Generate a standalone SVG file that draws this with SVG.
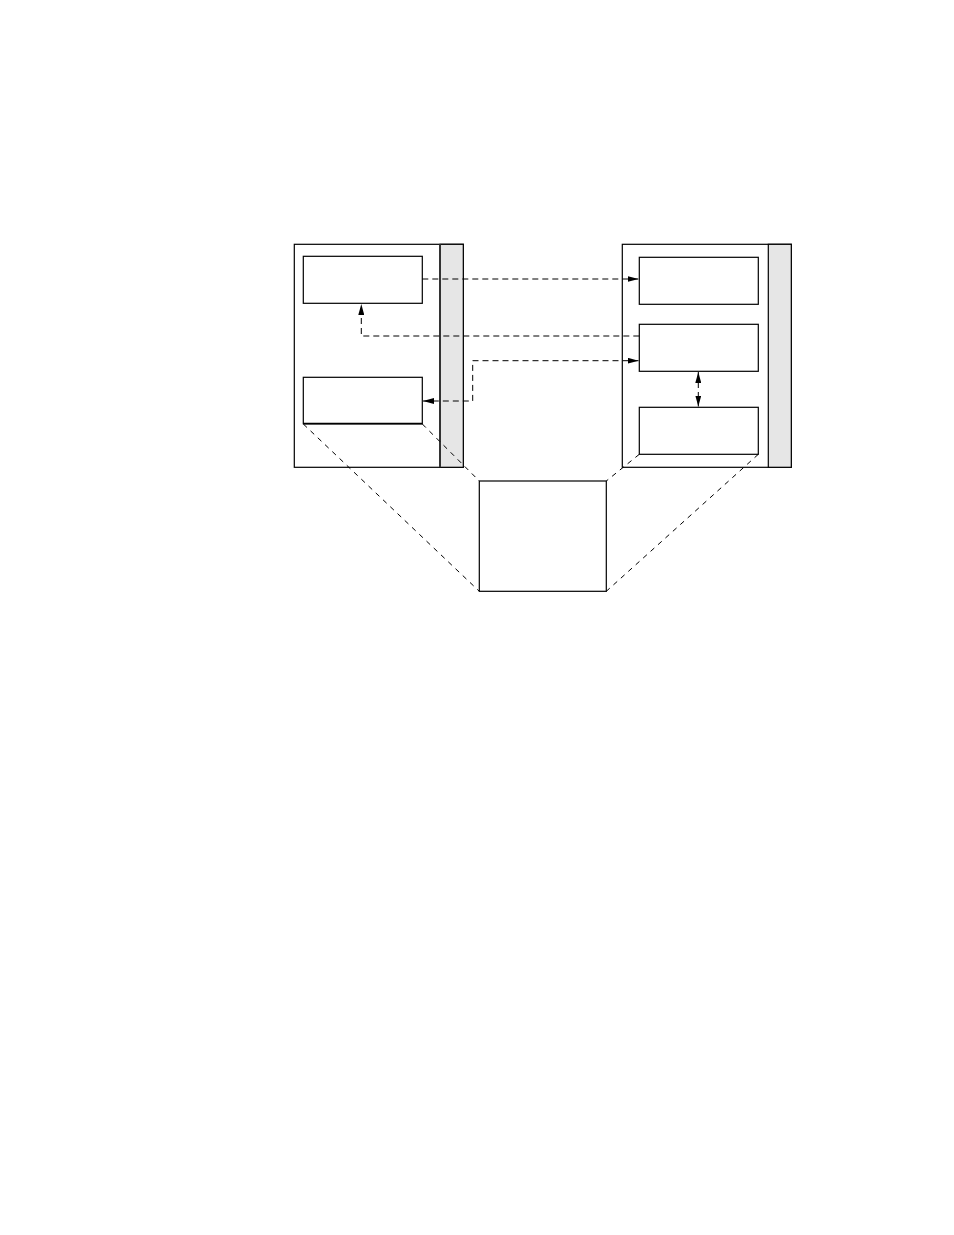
<svg xmlns="http://www.w3.org/2000/svg" width="954" height="1235" viewBox="0 0 954 1235">
<style>
.box{fill:#fff;stroke:#000;stroke-width:1.2}
.gray{fill:#e6e6e6;stroke:#000;stroke-width:1.2}
.dash{fill:none;stroke:#000;stroke-width:1;stroke-dasharray:6,4}
.diag{fill:none;stroke:#000;stroke-width:1;stroke-dasharray:5,5}
</style>
<defs>
<marker id="ah" viewBox="0 0 11 6" refX="11" refY="3" markerWidth="11" markerHeight="6" markerUnits="userSpaceOnUse" orient="auto-start-reverse">
<path d="M0,0 L11,3 L0,6 Z" fill="#000"/>
</marker>
</defs>
<rect width="954" height="1235" fill="#fff"/>
<g id="left-panel">
<rect class="box" x="294.3" y="244.3" width="169" height="223"/>
<rect class="gray" x="440" y="244.3" width="23.3" height="223"/>
<line x1="440" y1="244.3" x2="440" y2="467.3" stroke="#333" stroke-width="2"/>
</g>
<g id="left-box-1"><rect class="box" x="303.3" y="256.3" width="119" height="47"/></g>
<g id="left-box-2"><rect class="box" x="303.3" y="377.3" width="119" height="46.4"/><line x1="303.3" y1="423.7" x2="422.3" y2="423.7" stroke="#000" stroke-width="1.8"/></g>
<g id="right-panel">
<rect class="box" x="622.3" y="244.3" width="169" height="223"/>
<rect class="gray" x="768.3" y="244.3" width="23" height="223"/>
</g>
<g id="right-box-1"><rect class="box" x="639.3" y="257.3" width="119" height="47"/></g>
<g id="right-box-2"><rect class="box" x="639.3" y="324.3" width="119" height="47"/></g>
<g id="right-box-3"><rect class="box" x="639.3" y="407.3" width="119" height="47"/></g>
<g id="center-box"><rect class="box" x="479.3" y="481" width="127" height="110.3"/></g>
<g id="connectors">
<path class="dash" d="M422.3,279 H638.5" marker-end="url(#ah)"/>
<path class="dash" d="M639.3,336 H361.3 V304" marker-end="url(#ah)"/>
<path class="dash" d="M638.5,360.7 H472.7 V401 H423" marker-start="url(#ah)" marker-end="url(#ah)"/>
<path class="dash" d="M698.3,372 V406.5" marker-start="url(#ah)" marker-end="url(#ah)"/>
<path class="diag" d="M303.3,424 L479.3,591.3"/>
<path class="diag" d="M422.3,424 L479.3,481"/>
<path class="diag" d="M639.3,454.3 L606.3,481"/>
<path class="diag" d="M758.3,454.3 L606.3,591.3"/>
</g>
</svg>
